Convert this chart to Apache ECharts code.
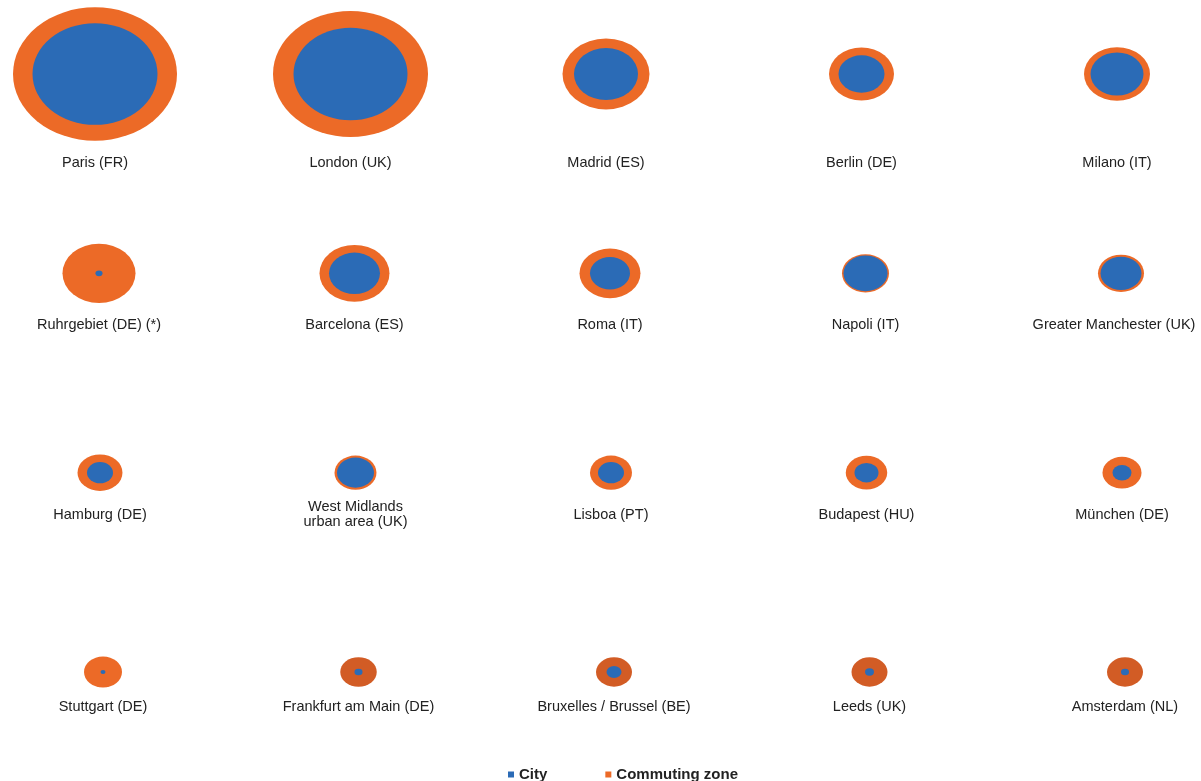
<!DOCTYPE html>
<html>
<head>
<meta charset="utf-8">
<script src="https://cdn.jsdelivr.net/npm/echarts@6/dist/echarts.min.js"></script>
<style>
    html, body { margin: 0; padding: 0; background: #fff; }
    #chart { width: 1201px; height: 781px; }
</style>
</head>
<body>
<div id="chart"></div>
<script>
// cities, read row by row (5 per row)
const cities = [
    'Paris (FR)', 'London (UK)', 'Madrid (ES)', 'Berlin (DE)', 'Milano (IT)',
    'Ruhrgebiet (DE) (*)', 'Barcelona (ES)', 'Roma (IT)', 'Napoli (IT)', 'Greater Manchester (UK)',
    'Hamburg (DE)', 'West Midlands\nurban area (UK)', 'Lisboa (PT)', 'Budapest (HU)', 'München (DE)',
    'Stuttgart (DE)', 'Frankfurt am Main (DE)', 'Bruxelles / Brussel (BE)', 'Leeds (UK)', 'Amsterdam (NL)'
];
// population, thousands (estimated from circle areas)
const cityValue = [
    6970, 5800, 1830, 944, 1253,
    22, 1160, 714, 864, 750,
    302, 611, 302, 257, 161,
    11, 29, 100, 36, 29
];
const zoneValue = [
    12000, 10720, 3380, 1885, 1944,
    2378, 2186, 1660, 986, 944,
    903, 787, 787, 768, 679,
    644, 594, 578, 578, 578
];

// layout
const COLS = 5;
const K = 1.497;          // px per sqrt(thousand), horizontal
const ASPECT = 1.23;      // picture is stretched horizontally
const rowShift = [0, 4, 5, 8];        // px
const labelDy = [89, 52, 42, 35];     // px below circle centre
const labelDx = { 'Greater Manchester (UK)': -7 };  // keep inside the page
const darkZone = ['Frankfurt am Main (DE)', 'Bruxelles / Brussel (BE)', 'Leeds (UK)', 'Amsterdam (NL)'];

const ORANGE = '#EC6A27';
const DARK_ORANGE = '#D25C25';
const BLUE = '#2B6BB6';

const size = v => {
    const w = K * Math.sqrt(v);
    return [w, w / ASPECT];
};

const pos = i => {
    const row = Math.floor(i / COLS);
    const col = i % COLS;
    return [col + rowShift[row] / 255.5, row];
};

const zoneData = cities.map((name, i) => ({
    name: name,
    value: pos(i).concat(zoneValue[i]),
    symbolSize: size(zoneValue[i]),
    itemStyle: { color: darkZone.indexOf(name) >= 0 ? DARK_ORANGE : ORANGE },
    label: { offset: [labelDx[name] || 0, labelDy[Math.floor(i / COLS)]] }
}));

const cityData = cities.map((name, i) => ({
    name: name,
    value: pos(i).concat(cityValue[i]),
    symbolSize: size(cityValue[i])
}));

const chart = echarts.init(document.getElementById('chart'));
chart.setOption({
    animation: false,
    backgroundColor: '#fff',
    grid: { left: 95, top: 74, width: 1022, height: 598 },
    xAxis: { type: 'value', min: 0, max: 4, show: false },
    yAxis: { type: 'value', min: 0, max: 3, inverse: true, show: false },
    legend: {
        data: ['City', 'Commuting zone'],
        left: 503,
        top: 762,
        icon: 'rect',
        itemWidth: 6,
        itemHeight: 6,
        itemGap: 58,
        textStyle: {
            fontFamily: 'Arial, "Liberation Sans", sans-serif',
            fontWeight: 'bold',
            fontSize: 15,
            color: '#222'
        }
    },
    series: [
        {
            name: 'Commuting zone',
            type: 'scatter',
            symbol: 'circle',
            clip: false,
            data: zoneData,
            itemStyle: { color: ORANGE, opacity: 1 },
            label: {
                show: true,
                position: 'inside',
                formatter: p => p.name,
                color: '#222',
                fontFamily: 'Arial, "Liberation Sans", sans-serif',
                fontSize: 14.5,
                lineHeight: 15,
                align: 'center'
            },
            emphasis: { disabled: true },
            z: 2
        },
        {
            name: 'City',
            type: 'scatter',
            symbol: 'circle',
            clip: false,
            data: cityData,
            itemStyle: { color: BLUE, opacity: 1 },
            emphasis: { disabled: true },
            z: 3
        }
    ]
});
</script>
</body>
</html>
